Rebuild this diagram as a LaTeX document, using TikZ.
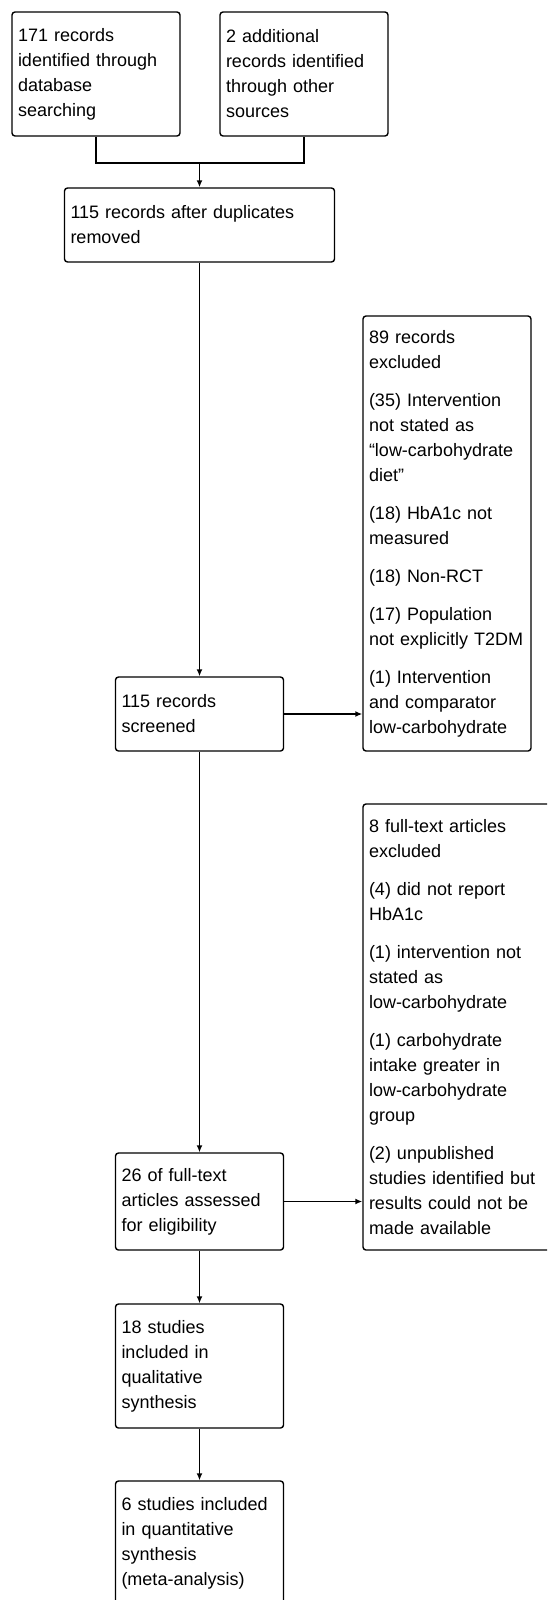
\documentclass[tikz,border=0pt]{standalone}
\usepackage{fontspec}
\setmainfont{Liberation Sans}
\usetikzlibrary{arrows.meta}

\begin{document}
\begin{tikzpicture}[x=1pt, y=-1pt, line width=1.4pt,
  box/.style = {draw, rounded corners=3pt, inner xsep=6pt, inner ysep=0pt, align=left,
    font=\fontsize{18}{25}\selectfont},
  narrow/.style = {box, text width=156pt},
  flow/.style = {-{Latex[length=7pt,width=6pt]}}]
  \useasboundingbox (0,0) rectangle (547,1600);
  \clip (0,0) rectangle (547,1600);
  % identification
  \node[narrow, minimum height=124pt] (db) at (96,74) {171 records\\identified through\\database\\searching};
  \node[narrow, minimum height=124pt] (other) at (304,74) {2 additional\\records identified\\through other\\sources};
  \node[box, text width=258pt, minimum height=74pt] (dup) at (199.5,225) {115 records after duplicates\\removed};
  \coordinate (join) at (199.5,163);
  % screening
  \node[narrow, minimum height=74pt] (screen) at (199.5,714) {115 records\\screened};
  \node[narrow, minimum height=435pt] (excl) at (447,533.5) {89 records\\excluded\\[13pt]
    (35) Intervention\\not stated as\\“low-carbohydrate\\diet”\\[13pt]
    (18) HbA1c not\\measured\\[13pt]
    (18) Non-RCT\\[13pt]
    (17) Population\\not explicitly T2DM\\[13pt]
    (1) Intervention\\and comparator\\low-carbohydrate};
  % eligibility
  \node[narrow, minimum height=97pt] (full) at (199.5,1201.5) {26 of full-text\\articles assessed\\for eligibility};
  \node[box, text width=180pt, minimum height=446pt] (fullexcl) at (459,1027) {8 full-text articles\\excluded\\[13pt]
    (4) did not report\\HbA1c\\[13pt]
    (1) intervention not\\stated as\\low-carbohydrate\\[13pt]
    (1) carbohydrate\\intake greater in\\low-carbohydrate\\group\\[13pt]
    (2) unpublished\\studies identified but\\results could not be\\made available};
  % included
  \node[narrow, minimum height=124pt] (qual) at (199.5,1366) {18 studies\\included in\\qualitative\\synthesis};
  \node[narrow, minimum height=124pt] (quant) at (199.5,1543) {6 studies included\\in quantitative\\synthesis\\(meta-analysis)};
  \draw (db) |- (join) -| (other);
  \draw[flow] (join) -- (dup);
  \draw[flow] (dup) -- (screen);
  \draw[flow] (screen) -- (screen -| excl.west);
  \draw[flow] (screen) -- (full);
  \draw[flow] (full) -- (full -| fullexcl.west);
  \draw[flow] (full) -- (qual);
  \draw[flow] (qual) -- (quant);
\end{tikzpicture}
\end{document}
